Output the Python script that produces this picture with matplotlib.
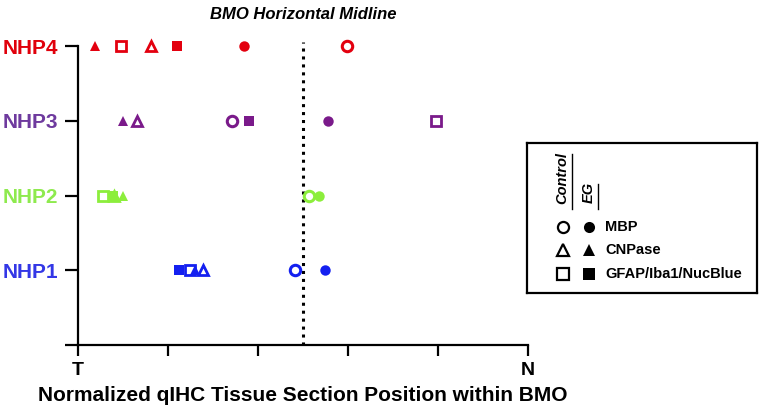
import matplotlib
matplotlib.use("Agg")
import matplotlib.pyplot as plt
from matplotlib.lines import Line2D

plt.rcParams['font.family'] = ['Liberation Sans', 'DejaVu Sans']

# normalized position (0 = T, 1 = N) for each animal, per stain
animals = ['NHP1', 'NHP2', 'NHP3', 'NHP4']
animal_y = [1, 2, 3, 4]
mbp_control = [0.482, 0.513, 0.342, 0.598]
mbp_eg = [0.549, 0.536, 0.556, 0.369]
cnp_control = [0.277, 0.080, 0.131, 0.162]
cnp_eg = [0.260, 0.100, 0.100, 0.038]
gfap_control = [0.249, 0.055, 0.796, 0.096]
gfap_eg = [0.224, 0.078, 0.380, 0.220]
midline = 0.5

marker_colors = ['#1420F0', '#8CEE3C', '#7A1A8A', '#E3000F']
label_colors = ['#3337E6', '#8EEA4E', '#6E3A9E', '#E0000B']

fig = plt.figure(figsize=(7.63, 4.12), dpi=100)
ax = fig.add_axes([78/763, 67/412, 450/763, 299/412])

for i in range(len(animals)):
    c = marker_colors[i]
    y = animal_y[i]
    kw = dict(ms=7.5, clip_on=False, zorder=3, ls='none')
    ax.plot(gfap_control[i], y, 's', mfc='white', mec=c, mew=2, **kw)
    ax.plot(cnp_control[i], y, '^', mfc='white', mec=c, mew=2, **kw)
    ax.plot(mbp_control[i], y, 'o', mfc='white', mec=c, mew=2.2, **kw)
    ax.plot(gfap_eg[i], y, 's', color=c, mew=0, **kw)
    ax.plot(cnp_eg[i], y, '^', color=c, mew=0, **kw)
    ax.plot(mbp_eg[i], y, 'o', color=c, mew=0, **kw)

ax.plot([midline, midline], [0, 4.05], color='black', ls=(0, (1, 1.6)), lw=2.2, clip_on=False, zorder=2)
ax.text(midline, 4.42, 'BMO Horizontal Midline', ha='center', va='center',
        fontsize=12, fontweight='bold', style='italic')

ax.set_xlim(0, 1)
ax.set_ylim(0, 4)
ax.spines['top'].set_visible(False)
ax.spines['right'].set_visible(False)
ax.spines['left'].set_linewidth(1.6)
ax.spines['bottom'].set_linewidth(1.6)

ax.set_xticks([0, 0.2, 0.4, 0.6, 0.8, 1.0])
ax.set_xticklabels(['T', '', '', '', '', 'N'], fontsize=14, fontweight='bold')
ax.tick_params(axis='x', length=8, width=1.6, pad=4)
ax.set_yticks([0] + animal_y)
ax.set_yticklabels([''] + animals, fontsize=15, fontweight='bold')
for lab, col in zip(ax.get_yticklabels()[1:], label_colors):
    lab.set_color(col)
ax.tick_params(axis='y', length=9.5, width=1.6, pad=5)
ax.set_xlabel('Normalized qIHC Tissue Section Position within BMO', fontsize=15,
              fontweight='bold', labelpad=5)

# custom legend box
lg = fig.add_axes([527/763, 119/412, 230/763, 150/412])
lg.set_xlim(0, 1)
lg.set_ylim(0, 1)
lg.set_xticks([])
lg.set_yticks([])
for s in lg.spines.values():
    s.set_linewidth(1.6)
xo, xf, xt = 0.155, 0.27, 0.34
lg.text(xo, 0.77, 'Control', rotation=90, ha='center', va='center', fontsize=10.5,
        fontweight='bold', style='italic')
lg.text(xf, 0.67, 'EG', rotation=90, ha='center', va='center', fontsize=10.5,
        fontweight='bold', style='italic')
lg.add_line(Line2D([xo + 0.04, xo + 0.04], [0.56, 0.93], color='black', lw=1))
lg.add_line(Line2D([xf + 0.04, xf + 0.04], [0.56, 0.73], color='black', lw=1))
rows = [('o', 'MBP', 0.44), ('^', 'CNPase', 0.29), ('s', 'GFAP/Iba1/NucBlue', 0.13)]
for m, name, yy in rows:
    lg.plot(xo, yy, m, ms=8, mfc='white', mec='black', mew=1.6)
    lg.plot(xf, yy, m, ms=8, color='black', mew=0)
    lg.text(xt, yy, name, ha='left', va='center', fontsize=10.5, fontweight='bold')

fig.savefig('out.png', dpi=100)
